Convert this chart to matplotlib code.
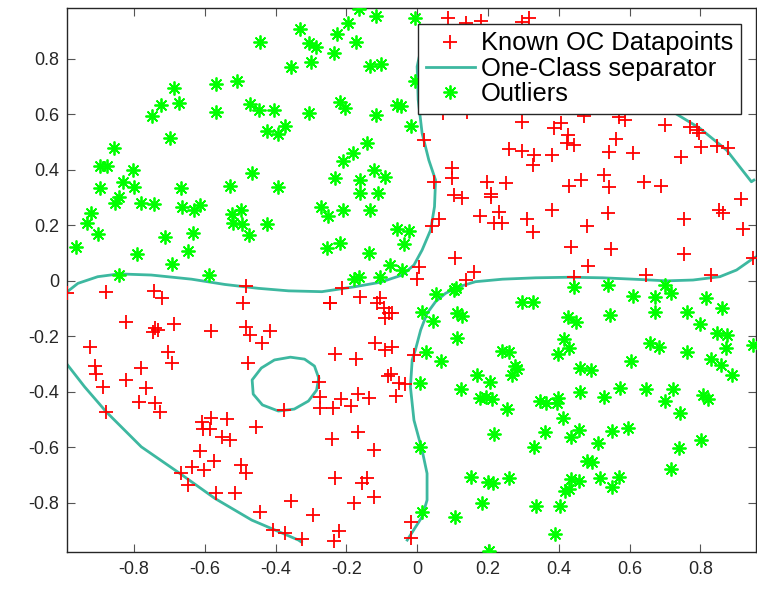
import matplotlib
matplotlib.use("Agg")
import matplotlib.pyplot as plt

plt.rcParams['font.family'] = ['Liberation Sans', 'DejaVu Sans']

# outliers (green asterisks)
out_x = [-0.165, -0.115, -0.007, -0.195, -0.332, -0.227, -0.173, -0.305, -0.285, -0.236,
         -0.299, -0.356, -0.134, -0.102, -0.005, -0.217, -0.203, -0.304, -0.115, -0.057,
         -0.047, -0.016, -0.372, -0.142, -0.181, -0.210, -0.123, -0.090, -0.231, -0.160,
         -0.444, -0.686, -0.568, -0.510, -0.722, -0.672, -0.471, -0.448, -0.403, -0.568,
         -0.749, -0.425, -0.392, -0.699, -0.856, -0.897, -0.875, -0.803, -0.465, -0.831,
         -0.897, -0.800, -0.667, -0.529, -0.394, -0.842, -0.853, -0.781, -0.743, -0.664,
         -0.614, -0.630, -0.921, -0.933, -0.902, -0.963, -0.711, -0.633, -0.524, -0.497,
         -0.519, -0.496, -0.425, -0.475, -0.647, -0.790, -0.691, -0.843, -0.587, -0.272,
         -0.253, -0.210, -0.132, -0.057, -0.024, -0.038, -0.255, -0.217, -0.137, -0.078,
         -0.042, -0.104, -0.177, -0.163, -0.160, -0.110,
         0.052, 0.104, 0.109, 0.014, 0.044, 0.113, 0.127, 0.113, 0.295, 0.024,
         0.066, 0.241, 0.260, 0.276, 0.444, 0.538, 0.699, 0.718, 0.609, 0.673,
         0.673, 0.326, 0.425, 0.449, 0.545, 0.763, 0.817, 0.862, 0.798, 0.848,
         0.875, 0.871, 0.949, 0.416, 0.430, 0.399, 0.658, 0.683, 0.763, 0.829,
         0.858, 0.605, 0.461, 0.491, 0.888, 0.282, 0.347, 0.364, 0.394, 0.399,
         0.461, 0.529, 0.574, 0.645, 0.699, 0.722, 0.741, 0.806, 0.822, 0.411,
         0.362, 0.331, 0.435, 0.458, 0.512, 0.551, 0.595, 0.480, 0.494, 0.435,
         0.458, 0.418, 0.430, 0.515, 0.569, 0.551, 0.739, 0.803, 0.718, 0.335,
         0.403, 0.389, 0.008, 0.123, 0.168, 0.205, 0.267, 0.177, 0.194, 0.211,
         0.255, 0.217, 0.008, 0.151, 0.200, 0.215, 0.260, 0.182, 0.014, 0.106,
         0.203]
out_y = [0.980, 0.955, 0.946, 0.930, 0.907, 0.889, 0.862, 0.858, 0.844, 0.822,
         0.787, 0.769, 0.775, 0.781, 0.720, 0.645, 0.622, 0.604, 0.597, 0.634,
         0.630, 0.559, 0.558, 0.495, 0.462, 0.432, 0.399, 0.375, 0.369, 0.363,
         0.862, 0.696, 0.708, 0.720, 0.634, 0.640, 0.637, 0.615, 0.615, 0.609,
         0.594, 0.541, 0.529, 0.514, 0.477, 0.415, 0.415, 0.399, 0.387, 0.357,
         0.333, 0.339, 0.333, 0.343, 0.339, 0.303, 0.279, 0.281, 0.277, 0.267,
         0.273, 0.255, 0.245, 0.209, 0.169, 0.123, 0.157, 0.171, 0.240, 0.255,
         0.207, 0.204, 0.205, 0.165, 0.107, 0.097, 0.061, 0.021, 0.021, 0.267,
         0.234, 0.255, 0.255, 0.187, 0.181, 0.132, 0.117, 0.135, 0.101, 0.057,
         0.039, 0.015, 0.005, 0.015, 0.315, 0.317,
         -0.049, -0.033, -0.027, -0.111, -0.145, -0.117, -0.127, -0.207, -0.077, -0.255,
         -0.289, -0.252, -0.255, -0.307, -0.021, -0.015, -0.015, -0.043, -0.055, -0.059,
         -0.111, -0.075, -0.132, -0.147, -0.123, -0.111, -0.063, -0.099, -0.156, -0.189,
         -0.195, -0.243, -0.231, -0.211, -0.243, -0.265, -0.225, -0.237, -0.255, -0.283,
         -0.303, -0.289, -0.315, -0.321, -0.339, -0.317, -0.432, -0.439, -0.439, -0.423,
         -0.402, -0.420, -0.385, -0.391, -0.433, -0.391, -0.477, -0.412, -0.426, -0.495,
         -0.546, -0.598, -0.564, -0.538, -0.586, -0.540, -0.529, -0.648, -0.654, -0.715,
         -0.720, -0.756, -0.750, -0.712, -0.706, -0.742, -0.604, -0.574, -0.678, -0.810,
         -0.810, -0.912, -0.369, -0.391, -0.339, -0.364, -0.339, -0.423, -0.418, -0.427,
         -0.462, -0.552, -0.598, -0.706, -0.724, -0.730, -0.712, -0.800, -0.832, -0.850,
         -0.974]

# known one-class datapoints (red plus)
oc_x = [0.088, 0.137, 0.181, 0.297, 0.316, 0.074, 0.142, 0.297, 0.387, 0.406,
        0.425, 0.423, 0.444, 0.470, 0.571, 0.588, 0.562, 0.543, 0.609, 0.699,
        0.770, 0.789, 0.796, 0.803, 0.848, 0.878, 0.746, 0.331, 0.326, 0.382,
        0.297, 0.430, 0.463, 0.529, 0.543, 0.642, 0.690, 0.019, 0.260, 0.099,
        0.099, 0.047, 0.198, 0.250, 0.104, 0.126, 0.208, 0.208, 0.178, 0.231,
        0.217, 0.241, 0.309, 0.063, 0.041, 0.106, 0.161, 0.137, 0.005, 0.000,
        0.914, 0.853, 0.864, 0.381, 0.326, 0.480, 0.538, 0.754, 0.921, 0.435,
        0.548, 0.753, 0.482, 0.949, 0.645, 0.829, 0.444,
        -0.988, -0.880, -0.744, -0.720, -0.482, -0.493, -0.822, -0.741, -0.732, -0.746,
        -0.686, -0.582, -0.483, -0.472, -0.415, -0.439, -0.924, -0.703, -0.911, -0.691,
        -0.479, -0.779, -0.907, -0.888, -0.822, -0.767, -0.786, -0.741, -0.727, -0.878,
        -0.609, -0.582, -0.538, -0.604, -0.585, -0.456, -0.552, -0.529, -0.376, -0.614,
        -0.573, -0.637, -0.602, -0.497, -0.482, -0.666, -0.647, -0.568, -0.514, -0.357,
        -0.444, -0.406, -0.373, -0.212, -0.245, -0.247, -0.160, -0.104, -0.113, -0.094,
        -0.080, -0.071, -0.092, -0.120, -0.090, -0.071, -0.231, -0.173, -0.009, -0.082,
        -0.075, -0.052, -0.033, -0.059, -0.278, -0.274, -0.274, -0.239, -0.214, -0.186,
        -0.168, -0.137, -0.241, -0.168, -0.123, -0.231, -0.156, -0.142, -0.177, -0.123,
        -0.295, -0.222, -0.236, -0.326, -0.016, -0.016]
oc_y = [0.946, 0.930, 0.937, 0.934, 0.947, 0.606, 0.609, 0.573, 0.550, 0.568,
        0.525, 0.495, 0.489, 0.594, 0.591, 0.579, 0.510, 0.465, 0.459, 0.561,
        0.555, 0.543, 0.532, 0.483, 0.486, 0.477, 0.445, 0.453, 0.417, 0.453,
        0.469, 0.343, 0.363, 0.381, 0.339, 0.357, 0.343, 0.507, 0.475, 0.405,
        0.369, 0.357, 0.357, 0.354, 0.309, 0.297, 0.313, 0.302, 0.234, 0.247,
        0.209, 0.209, 0.222, 0.222, 0.197, 0.083, 0.033, 0.003, 0.049, 0.006,
        0.294, 0.255, 0.245, 0.255, 0.175, 0.197, 0.243, 0.222, 0.186, 0.123,
        0.114, 0.095, 0.053, 0.081, 0.021, 0.021, 0.015,
        -0.043, -0.039, -0.037, -0.063, -0.019, -0.079, -0.147, -0.171, -0.177, -0.183,
        -0.156, -0.180, -0.165, -0.195, -0.180, -0.225, -0.237, -0.255, -0.307, -0.295,
        -0.295, -0.315, -0.336, -0.382, -0.357, -0.387, -0.438, -0.441, -0.472, -0.472,
        -0.508, -0.493, -0.499, -0.532, -0.532, -0.528, -0.562, -0.574, -0.466, -0.612,
        -0.648, -0.670, -0.682, -0.664, -0.692, -0.692, -0.736, -0.764, -0.764, -0.792,
        -0.832, -0.898, -0.910, -0.027, -0.079, -0.081, -0.057, -0.063, -0.081, -0.099,
        -0.117, -0.117, -0.135, -0.225, -0.249, -0.237, -0.264, -0.283, -0.267, -0.343,
        -0.336, -0.369, -0.372, -0.414, -0.364, -0.418, -0.457, -0.457, -0.427, -0.450,
        -0.409, -0.421, -0.570, -0.546, -0.610, -0.712, -0.730, -0.712, -0.800, -0.780,
        -0.844, -0.901, -0.938, -0.930, -0.868, -0.926]

# one-class separator, traced segments (the part under the legend is hidden)
sep_arc_x = [-0.994, -0.939, -0.878, -0.779, -0.670, -0.571, -0.467, -0.401, -0.335, -0.327]
sep_arc_y = [-0.292, -0.382, -0.472, -0.598, -0.694, -0.784, -0.862, -0.898, -0.934, -0.941]

sep_loop_x = [-0.278, -0.290, -0.318, -0.358, -0.403, -0.440, -0.466, -0.463, -0.437,
              -0.392, -0.347, -0.307, -0.284, -0.278]
sep_loop_y = [-0.350, -0.307, -0.282, -0.275, -0.285, -0.314, -0.357, -0.408, -0.447,
              -0.469, -0.462, -0.433, -0.394, -0.350]

sep_upper_x = [-0.994, -0.958, -0.902, -0.842, -0.751, -0.637, -0.543, -0.448, -0.363,
               -0.269, -0.175, -0.104, -0.042, -0.009, 0.014, 0.038, 0.049, 0.052, 0.033,
               0.014, 0.003, 0.000, 0.010, 0.080, 0.400, 0.628, 0.713, 0.798, 0.874,
               0.944, 0.951]
sep_upper_y = [-0.045, -0.009, 0.015, 0.025, 0.021, 0.006, -0.013, -0.027, -0.036,
               -0.039, -0.021, -0.005, 0.021, 0.057, 0.111, 0.183, 0.267, 0.363, 0.435,
               0.532, 0.652, 0.772, 0.832, 0.830, 0.820, 0.760, 0.616, 0.550, 0.471,
               0.357, 0.363]

sep_lower_x = [0.960, 0.949, 0.902, 0.855, 0.779, 0.704, 0.628, 0.524, 0.430, 0.335,
               0.241, 0.165, 0.118, 0.080, 0.052, 0.028, 0.010, -0.005, -0.014, -0.019,
               -0.009, 0.014, 0.028, 0.028, 0.014, -0.028]
sep_lower_y = [0.088, 0.081, 0.039, 0.015, 0.003, 0.000, 0.005, 0.011, 0.013, 0.011,
               0.006, -0.003, -0.021, -0.045, -0.075, -0.117, -0.177, -0.249, -0.285,
               -0.382, -0.502, -0.610, -0.694, -0.790, -0.850, -0.934]

sep_color = '#3db8a0'

fig = plt.figure(figsize=(7.57, 5.90), dpi=100)
ax = fig.add_axes([0.0889, 0.0639, 0.9098, 0.9225])

ax.plot(oc_x, oc_y, linestyle='none', marker='+', color='#ff0000',
        markersize=10, markeredgewidth=1.3, label='Known OC Datapoints', zorder=3)
ax.plot(sep_upper_x, sep_upper_y, color=sep_color, lw=2.0,
        label='One-Class separator', zorder=2)
for sx, sy in [(sep_lower_x, sep_lower_y), (sep_arc_x, sep_arc_y), (sep_loop_x, sep_loop_y)]:
    ax.plot(sx, sy, color=sep_color, lw=2.0, zorder=2)
ax.plot(out_x, out_y, linestyle='none', marker=(8, 2, 0), color='#00ff00',
        markersize=10, markeredgewidth=1.3, label='Outliers', zorder=3)

ax.set_xlim(-0.988, 0.957)
ax.set_ylim(-0.978, 0.983)
ticks = [-0.8, -0.6, -0.4, -0.2, 0, 0.2, 0.4, 0.6, 0.8]
ax.set_xticks(ticks)
ax.set_yticks(ticks)
ax.set_xticklabels(['-0.8', '-0.6', '-0.4', '-0.2', '0', '0.2', '0.4', '0.6', '0.8'])
ax.set_yticklabels(['-0.8', '-0.6', '-0.4', '-0.2', '0', '0.2', '0.4', '0.6', '0.8'])
ax.tick_params(direction='in', top=True, right=True, length=6, width=0.8,
               color='#555555', labelsize=13, labelcolor='#262626', pad=6)
for sp in ax.spines.values():
    sp.set_color('#262626')
    sp.set_linewidth(1.0)

leg = ax.legend(loc='upper right', bbox_to_anchor=(0.978, 0.971), borderaxespad=0,
                fontsize=18.4, fancybox=False, edgecolor='#262626', framealpha=1,
                handlelength=1.9, handletextpad=0.25, labelspacing=0.05,
                borderpad=0.3)
leg.get_frame().set_linewidth(1.0)
leg.set_zorder(5)

fig.savefig('out.png', dpi=100)
